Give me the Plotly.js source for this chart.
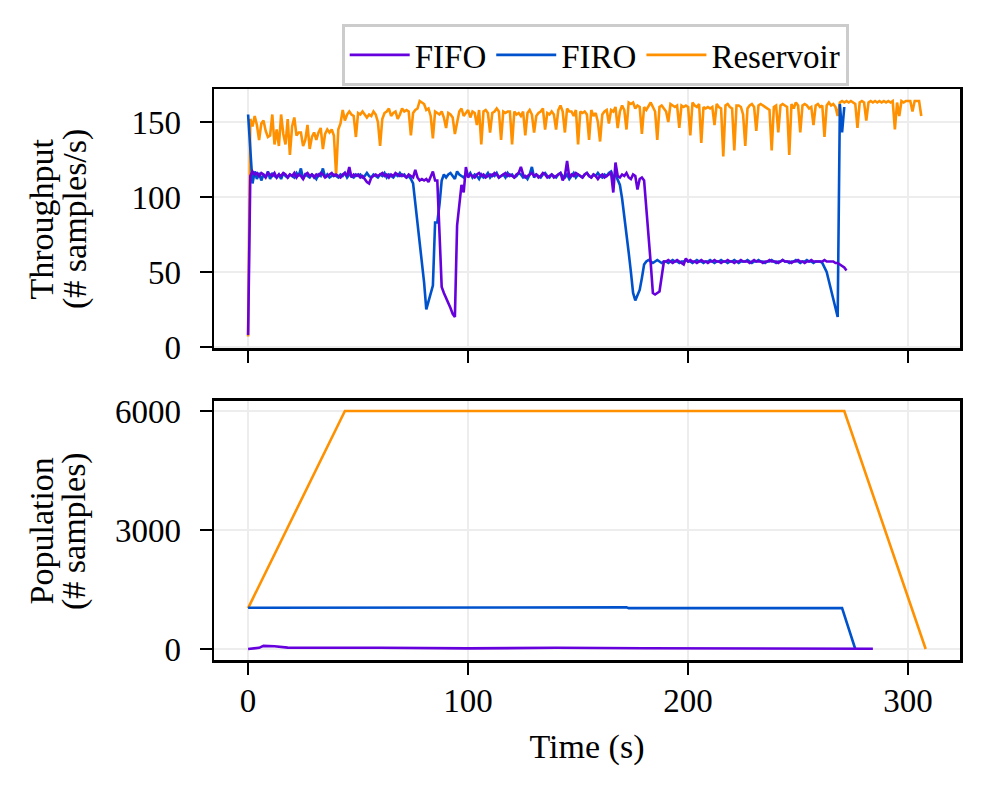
<!DOCTYPE html>
<html>
<head>
<meta charset="utf-8">
<script src="https://cdn.plot.ly/plotly-3.0.1.min.js"></script>
<style>html, body { margin: 0; padding: 0; background: #fff; }</style>
</head>
<body>
<div id="chart" style="width:989px;height:798px"></div>
<script>
// throughput, one sample per second (samples/s)
const fifoThroughput = [
  8, 114, 117, 115, 116, 114, 116, 115, 113, 116,
  115, 114, 116, 113, 115, 114, 116, 115, 113, 115,
  114, 116, 113, 115, 114, 112, 115, 116, 114, 115,
  113, 115, 114, 116, 115, 113, 114, 115, 116, 114,
  115, 114, 113, 115, 116, 114, 120, 113, 115, 114,
  115, 113, 114, 112, 110, 109, 113, 114, 115, 114,
  115, 116, 114, 115, 113, 115, 114, 116, 115, 114,
  115, 114, 113, 115, 114, 113, 118, 113, 111, 112,
  111, 112, 110, 113, 117, 111, 111, 76, 40, 36,
  33, 29, 26, 22, 20, 81, 97, 108, 103, 120,
  113, 115, 114, 113, 115, 116, 114, 115, 113, 114,
  115, 114, 116, 115, 113, 114, 115, 116, 114, 115,
  114, 113, 115, 116, 120, 115, 113, 114, 115, 116,
  114, 115, 113, 114, 116, 115, 113, 114, 115, 113,
  114, 115, 116, 111, 114, 124, 113, 115, 114, 116,
  115, 114, 113, 115, 116, 114, 113, 115, 114, 112,
  114, 115, 113, 114, 115, 116, 103, 123, 114, 113,
  115, 114, 116, 113, 112, 115, 114, 105, 112, 113,
  111, 94, 75, 56, 36, 35, 36, 37, 47, 57,
  57, 58, 57, 56, 57, 58, 57, 56, 55, 59,
  57, 58, 57, 57, 56, 57, 58, 57, 57, 56,
  57, 57, 58, 57, 57, 56, 57, 57, 58, 57,
  57, 56, 57, 57, 58, 57, 57, 57, 56, 57,
  58, 57, 57, 57, 56, 57, 57, 58, 57, 57,
  57, 56, 57, 58, 57, 57, 57, 56, 57, 57,
  58, 57, 57, 56, 57, 57, 58, 57, 57, 57,
  57, 57, 58, 57, 57, 57, 57, 56, 56, 55,
  54, 53, 51
];

const firoThroughput = [
  155, 128, 109, 117, 112, 116, 111, 115, 113, 117,
  112, 116, 114, 113, 115, 112, 116, 114, 113, 115,
  114, 113, 116, 114, 119, 112, 115, 114, 113, 115,
  114, 112, 115, 114, 119, 113, 115, 113, 114, 115,
  114, 113, 115, 114, 116, 113, 115, 114, 113, 115,
  114, 115, 113, 114, 116, 114, 113, 115, 114, 113,
  115, 114, 116, 113, 115, 114, 113, 115, 114, 116,
  114, 115, 113, 114, 112, 109, 96, 83, 70, 57,
  43, 25, 30, 36, 41, 83, 83, 95, 111, 115,
  113, 115, 116, 114, 112, 117, 115, 114, 113, 115,
  114, 116, 113, 115, 114, 112, 115, 113, 114, 116,
  113, 115, 114, 116, 113, 114, 115, 113, 116, 114,
  115, 113, 114, 116, 115, 113, 114, 112, 115, 120,
  113, 115, 114, 113, 115, 116, 114, 113, 115, 114,
  113, 115, 116, 114, 113, 115, 112, 114, 116, 113,
  115, 114, 113, 115, 116, 114, 113, 115, 114, 116,
  114, 113, 115, 114, 116, 117, 113, 115, 112, 108,
  99, 88, 76, 63, 50, 36, 31, 34, 38, 46,
  55, 57, 58, 57, 56, 57, 58, 57, 56, 57,
  57, 56, 57, 58, 57, 57, 56, 57, 57, 58,
  57, 57, 56, 57, 58, 57, 57, 56, 57, 57,
  58, 57, 56, 57, 57, 58, 57, 57, 56, 57,
  57, 58, 57, 56, 57, 57, 57, 58, 57, 56,
  57, 57, 58, 57, 57, 56, 57, 57, 58, 57,
  56, 57, 57, 58, 57, 57, 56, 57, 57, 58,
  57, 56, 57, 57, 58, 57, 57, 56, 57, 57,
  57, 56, 53, 50, 44, 38, 32, 26, 20, 162,
  143, 160
];

const reservoirThroughput = [
  7, 152, 147, 154, 148, 138, 149, 151, 144, 140,
  141, 155, 135, 145, 134, 155, 142, 135, 152, 128,
  147, 153, 141, 143, 143, 134, 138, 148, 132, 140,
  143, 138, 143, 146, 132, 142, 145, 143, 145, 141,
  115, 145, 149, 158, 151, 155, 157, 155, 154, 140,
  156, 155, 157, 155, 153, 155, 154, 157, 155, 150,
  134, 152, 156, 157, 159, 154, 156, 157, 152, 155,
  159, 157, 158, 157, 141, 156, 158, 159, 164, 163,
  162, 158, 159, 154, 139, 157, 156, 155, 157, 153,
  146, 156, 155, 153, 142, 149, 157, 159, 154, 156,
  158, 153, 157, 156, 148, 158, 135, 157, 158, 156,
  143, 156, 157, 159, 157, 138, 157, 156, 157, 157,
  135, 157, 155, 156, 154, 157, 141, 156, 158, 155,
  143, 154, 156, 157, 159, 145, 156, 155, 157, 155,
  145, 158, 161, 157, 143, 159, 157, 157, 154, 158,
  135, 157, 156, 157, 155, 138, 158, 154, 156, 150,
  137, 155, 157, 158, 149, 158, 157, 160, 146, 157,
  161, 158, 145, 163, 162, 163, 159, 161, 160, 142,
  160, 158, 161, 163, 160, 157, 138, 160, 161, 159,
  157, 150, 162, 161, 160, 161, 146, 161, 160, 161,
  160, 141, 163, 161, 160, 162, 136, 160, 159, 160,
  159, 160, 148, 162, 160, 159, 127, 161, 162, 160,
  159, 131, 161, 161, 160, 155, 134, 159, 161, 162,
  160, 144, 161, 162, 161, 160, 159, 158, 131, 160,
  161, 143, 161, 162, 161, 160, 128, 162, 159, 163,
  161, 143, 161, 162, 161, 159, 160, 148, 161, 162,
  160, 161, 140, 161, 163, 161, 162, 160, 154, 163,
  164, 163, 164, 163, 164, 163, 162, 146, 163, 164,
  163, 151, 163, 164, 163, 164, 163, 164, 163, 164,
  163, 164, 163, 164, 145, 163, 154, 164, 163, 164,
  164, 164, 157, 164, 164, 164, 154
];

// population (# samples), sampled where it changes
const fifoPopTime = [0, 5, 7, 12, 18, 40, 60, 100, 140, 180, 230, 284];
const fifoPop = [0, 30, 80, 70, 35, 40, 30, 15, 30, 20, 10, 5];
const firoPopTime = [0, 85, 86, 172, 173, 270, 276];
const firoPop = [1040, 1040, 1050, 1050, 1030, 1030, 0];
const reservoirPopTime = [0, 44, 271, 308];
const reservoirPop = [1030, 6000, 6000, 0];

const names = ['FIFO', 'FIRO', 'Reservoir'];
const colors = ['#6600dd', '#0052cc', '#ff9100'];

const seconds = arr => arr.map((_, i) => i);
const font = 'Liberation Serif, DejaVu Serif, serif';

function line(x, y, i, axes, legend) {
  return {
    x: x, y: y, type: 'scatter', mode: 'lines', name: names[i],
    xaxis: axes[0], yaxis: axes[1],
    line: { color: colors[i], width: 2.6 },
    showlegend: legend, legendrank: i + 1
  };
}

// reservoir first so FIRO/FIFO sit on top of it
const data = [
  line(seconds(reservoirThroughput), reservoirThroughput, 2, ['x', 'y'], true),
  line(seconds(firoThroughput), firoThroughput, 1, ['x', 'y'], true),
  line(seconds(fifoThroughput), fifoThroughput, 0, ['x', 'y'], true),
  line(reservoirPopTime, reservoirPop, 2, ['x2', 'y2'], false),
  line(firoPopTime, firoPop, 1, ['x2', 'y2'], false),
  line(fifoPopTime, fifoPop, 0, ['x2', 'y2'], false)
];

const axis = {
  showline: true, mirror: true, linecolor: '#000', linewidth: 2.5,
  ticks: 'outside', ticklen: 12, tickwidth: 2.5, tickcolor: '#000',
  showgrid: true, gridcolor: '#ededed', gridwidth: 2, zeroline: false,
  tickfont: { family: font, size: 33, color: '#000' }
};

// two-line y titles, one annotation per line
function ytitle(text, x, y) {
  return {
    text: text, xref: 'paper', yref: 'paper', x: x, y: y,
    xanchor: 'center', yanchor: 'middle', textangle: -90, showarrow: false,
    font: { family: font, size: 34, color: '#000' }
  };
}

const layout = {
  width: 989, height: 798,
  margin: { l: 214, r: 29, t: 89, b: 138 },
  paper_bgcolor: '#fff', plot_bgcolor: '#fff',
  font: { family: font, size: 33, color: '#000' },
  xaxis: Object.assign({}, axis, {
    anchor: 'y', domain: [0, 1], range: [-15.5, 323.6],
    tickvals: [0, 100, 200, 300], showticklabels: false
  }),
  xaxis2: Object.assign({}, axis, {
    anchor: 'y2', domain: [0, 1], range: [-15.5, 323.6],
    tickvals: [0, 100, 200, 300], ticklabelstandoff: -2,
    title: { text: 'Time (s)', font: { family: font, size: 34 }, standoff: 16 }
  }),
  yaxis: Object.assign({}, axis, {
    anchor: 'x', domain: [0.5464, 1], range: [-0.7, 172],
    tickvals: [0, 50, 100, 150], ticklabelstandoff: 12
  }),
  yaxis2: Object.assign({}, axis, {
    anchor: 'x2', domain: [0, 0.4536], range: [-277, 6252],
    tickvals: [0, 3000, 6000], ticklabelstandoff: 12
  }),
  annotations: [
    ytitle('Throughput', -0.2306, 0.7732),
    ytitle('(# samples/s)', -0.187, 0.7732),
    ytitle('Population', -0.2306, 0.2268),
    ytitle('(# samples)', -0.187, 0.2268)
  ],
  legend: {
    orientation: 'h', x: 0.511, xanchor: 'center', y: 1.114, yanchor: 'top',
    bordercolor: '#cccccc', borderwidth: 3, bgcolor: '#fff',
    itemwidth: 60, font: { family: font, size: 33 }
  },
  showlegend: true
};

Plotly.newPlot('chart', data, layout, { displayModeBar: false, staticPlot: true });
</script>
</body>
</html>
